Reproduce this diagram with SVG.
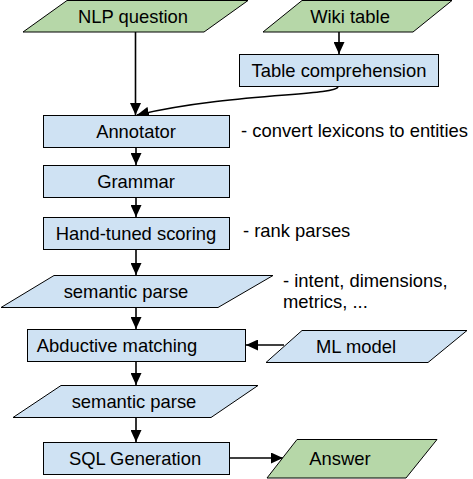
<svg xmlns="http://www.w3.org/2000/svg" width="473" height="479" viewBox="0 0 473 479">
<defs>
<style>
.box{fill:#cfe2f3;stroke:#000;stroke-width:1}
.io{fill:#b6d7a8;stroke:#000;stroke-width:1}
.data{fill:#cfe2f3;stroke:#000;stroke-width:1}
.t{font-family:"Liberation Sans",Arial,sans-serif;font-size:18.4px;fill:#000}
.c{text-anchor:middle}
.ln{fill:none;stroke:#000;stroke-width:1.6}
</style>
<marker id="ah" markerUnits="userSpaceOnUse" viewBox="0 0 12 11" refX="12" refY="5.5" markerWidth="12" markerHeight="11" orient="auto">
<path d="M0,0 L12,5.5 L0,11 z" fill="#000"/>
</marker>
</defs>
<rect width="473" height="479" fill="#fff"/>
<g id="connectors">
<line class="ln" x1="135.5" y1="32" x2="135.5" y2="115" marker-end="url(#ah)"/>
<line class="ln" x1="339" y1="32" x2="339" y2="54" marker-end="url(#ah)"/>
<path class="ln" d="M338,87 C335,96 230,93 137,115" marker-end="url(#ah)"/>
<line class="ln" x1="136" y1="147" x2="136" y2="165" marker-end="url(#ah)"/>
<line class="ln" x1="136" y1="197" x2="136" y2="217" marker-end="url(#ah)"/>
<line class="ln" x1="136" y1="249" x2="136" y2="275" marker-end="url(#ah)"/>
<line class="ln" x1="136" y1="307" x2="136" y2="329" marker-end="url(#ah)"/>
<line class="ln" x1="284" y1="345" x2="246" y2="345" marker-end="url(#ah)"/>
<line class="ln" x1="136" y1="362" x2="136" y2="385" marker-end="url(#ah)"/>
<line class="ln" x1="136" y1="417" x2="136" y2="442" marker-end="url(#ah)"/>
<line class="ln" x1="229" y1="458" x2="283" y2="458" marker-end="url(#ah)"/>
</g>
<g id="nlp-question">
<polygon class="io" points="67,0.5 248,0.5 204,32 23,32"/>
<text class="t c" x="133" y="23">NLP question</text>
</g>
<g id="wiki-table">
<polygon class="io" points="302,0.5 452,0.5 413,32 263,32"/>
<text class="t c" x="350" y="23">Wiki table</text>
</g>
<g id="table-comprehension">
<rect class="box" x="239.5" y="54.5" width="199" height="32"/>
<text class="t c" x="339" y="77">Table comprehension</text>
</g>
<g id="annotator">
<rect class="box" x="43.5" y="115.5" width="186" height="32"/>
<text class="t c" x="136" y="138">Annotator</text>
</g>
<text class="t" x="241" y="137">- convert lexicons to entities</text>
<g id="grammar">
<rect class="box" x="43.5" y="165.5" width="186" height="32"/>
<text class="t c" x="136" y="188">Grammar</text>
</g>
<g id="hand-tuned-scoring">
<rect class="box" x="43.5" y="217.5" width="186" height="32"/>
<text class="t c" x="136" y="240">Hand-tuned scoring</text>
</g>
<text class="t" x="243" y="237">- rank parses</text>
<g id="semantic-parse-1">
<polygon class="data" points="54,275.5 273,275.5 218,307.5 1,307.5"/>
<text class="t c" x="126" y="298">semantic parse</text>
</g>
<text class="t" x="283" y="287">- intent, dimensions,</text>
<text class="t" x="283" y="308">metrics, ...</text>
<g id="abductive-matching">
<rect class="box" x="27.5" y="329.5" width="218" height="32"/>
<text class="t c" x="117" y="352">Abductive matching</text>
</g>
<g id="ml-model">
<polygon class="data" points="302,330.5 467,330.5 428,362.5 266,362.5"/>
<text class="t c" x="356" y="353">ML model</text>
</g>
<g id="semantic-parse-2">
<polygon class="data" points="61,385.5 258,385.5 211,417.5 13,417.5"/>
<text class="t c" x="134" y="408">semantic parse</text>
</g>
<g id="sql-generation">
<rect class="box" x="43.5" y="442.5" width="186" height="32"/>
<text class="t c" x="135" y="465">SQL Generation</text>
</g>
<g id="answer">
<polygon class="io" points="297,439.5 437,439.5 406,478 267,478"/>
<text class="t c" x="340" y="465">Answer</text>
</g>
</svg>
